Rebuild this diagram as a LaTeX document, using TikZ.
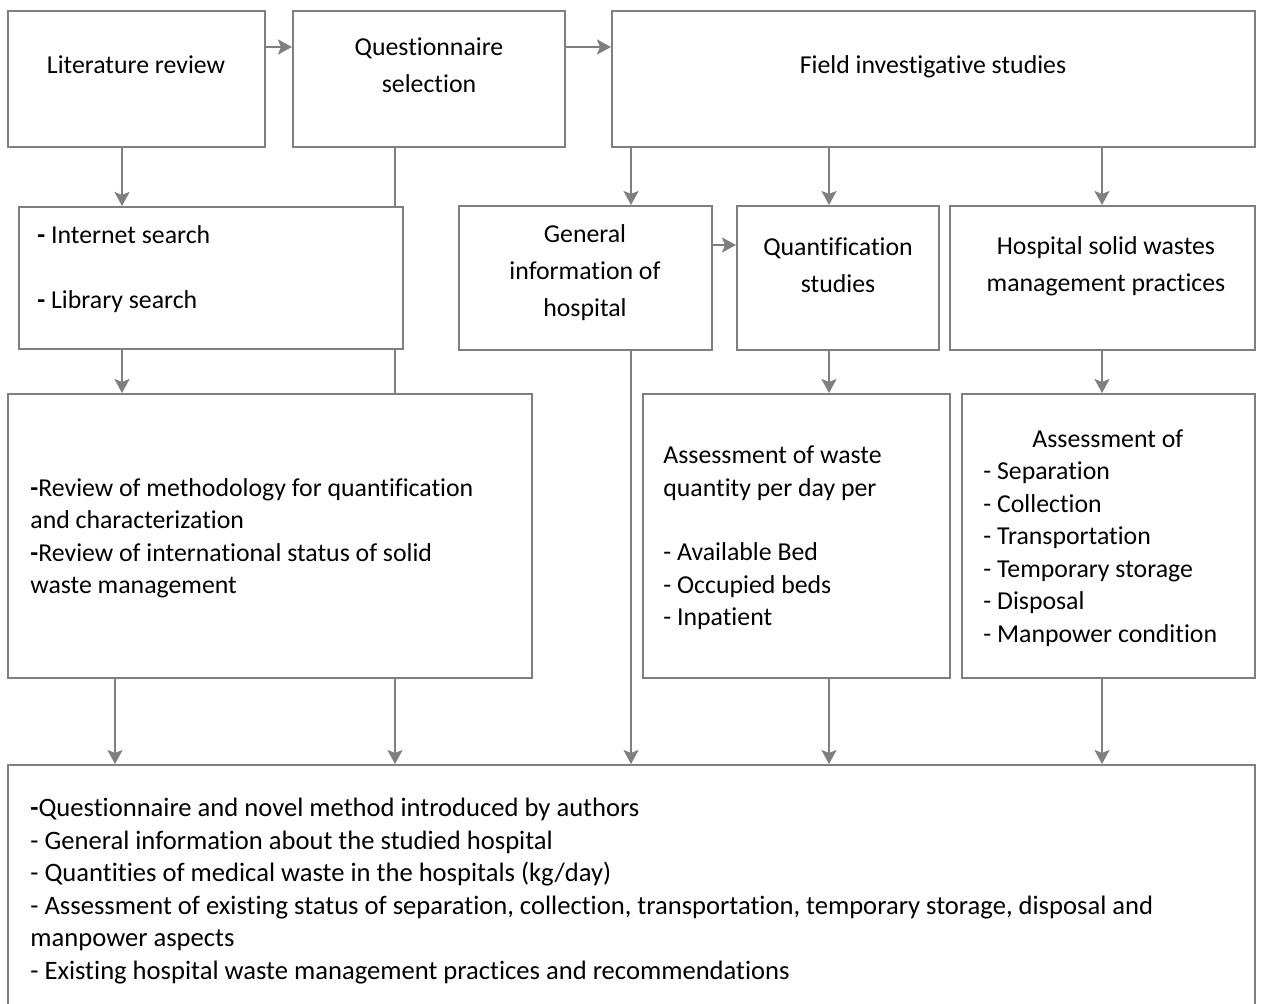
\documentclass[tikz,border=0pt]{standalone}
\usepackage{fontspec}
\setmainfont[RawFeature={-liga;-clig;-dlig;-calt}]{Carlito}
\usetikzlibrary{arrows.meta,fit}

\begin{document}
\begin{tikzpicture}[x=0.5pt,y=-0.5pt,
  box/.style={draw=linegray,line width=1pt,inner sep=0pt},
  link/.style={draw=linegray,line width=1.2pt},
  arr/.style={link,-{Stealth[length=7pt,width=7.5pt,inset=1.5pt]}},
  txt/.style={inner sep=0pt,align=center,font=\fontsize{12.9}{18.5}\selectfont},
  list/.style={txt,align=left,anchor=west,font=\fontsize{12.9}{16.25}\selectfont}]
\definecolor{linegray}{HTML}{7F7F7F}
\useasboundingbox (0,0) rectangle (1268,1003);
% boxes
\foreach \nm/\xa/\ya/\xb/\yb in {lit/8/11/265/147,quest/293/11/565/147,field/612/11/1255/147,
  srch/19/207/403/349,gen/459/206/712/350,quant/737/206/939/350,hosp/950/206/1255/350,
  rev/8/394/532/678,wq/643/394/950/678,asm/962/394/1255/678,res/8/765/1255/1015}
  {\node[box,fit={(\xa,\ya) (\xb,\yb)}] (\nm) {};}
% texts
\node[txt] (lit-t) at (136,65) {Literature review};
\node[txt] (quest-t) at (429,65) {Questionnaire\\selection};
\node[txt] (field-t) at (933,67) {Field investigative studies};
\node[list] (srch-t) at (37,269) {\textbf{-} Internet search\\[16pt]\textbf{-} Library search};
\node[txt] (gen-t) at (585,273) {General\\information of\\hospital};
\node[txt] (quant-t) at (838,265) {Quantification\\studies};
\node[txt] (hosp-t) at (1106,266) {Hospital solid wastes\\management practices};
\node[list] (rev-t) at (30,538) {\textbf{-}Review of methodology for quantification\\and characterization\\
  \textbf{-}Review of international status of solid\\waste management};
\node[list] (wq-t) at (663,538) {Assessment of waste\\quantity per day per\\[16pt]- Available Bed\\- Occupied beds\\- Inpatient};
\node[list] (asm-t) at (983,538) {\hspace*{24.5pt}Assessment of\\- Separation\\- Collection\\- Transportation\\
  - Temporary storage\\- Disposal\\- Manpower condition};
\node[list,font=\fontsize{13.3}{16.25}\selectfont] (res-t) at (30,891) {\textbf{-}Questionnaire and novel method introduced by authors\\
  - General information about the studied hospital\\
  - Quantities of medical waste in the hospitals (kg/day)\\
  - Assessment of existing status of separation, collection, transportation, temporary storage, disposal and\\
  manpower aspects\\
  - Existing hospital waste management practices and recommendations};
% connector columns and rows
\coordinate (c0) at (115,0);
\coordinate (c1) at (122,0);
\coordinate (c2) at (395,0);
\coordinate (c3) at (631,0);
\coordinate (c4) at (829,0);
\coordinate (c5) at (1102,0);
\coordinate (r1) at (0,47);
\coordinate (r2) at (0,245);
% connectors
\draw[arr] (lit.east |- r1) -- (quest.west |- r1);
\draw[arr] (quest.east |- r1) -- (field.west |- r1);
\draw[arr] (lit.south -| c1) -- (srch.north -| c1);
\draw[link] (quest.south -| c2) -- (srch.north -| c2);
\draw[arr] (srch.south -| c1) -- (rev.north -| c1);
\draw[link] (srch.south -| c2) -- (rev.north -| c2);
\draw[arr] (rev.south -| c0) -- (res.north -| c0);
\draw[arr] (rev.south -| c2) -- (res.north -| c2);
\draw[arr] (field.south -| c3) -- (gen.north -| c3);
\draw[arr] (field.south -| c4) -- (quant.north -| c4);
\draw[arr] (field.south -| c5) -- (hosp.north -| c5);
\draw[arr] (gen.east |- r2) -- (quant.west |- r2);
\draw[arr] (gen.south -| c3) -- (res.north -| c3);
\draw[arr] (quant.south -| c4) -- (wq.north -| c4);
\draw[arr] (hosp.south -| c5) -- (asm.north -| c5);
\draw[arr] (wq.south -| c4) -- (res.north -| c4);
\draw[arr] (asm.south -| c5) -- (res.north -| c5);
\end{tikzpicture}
\end{document}
